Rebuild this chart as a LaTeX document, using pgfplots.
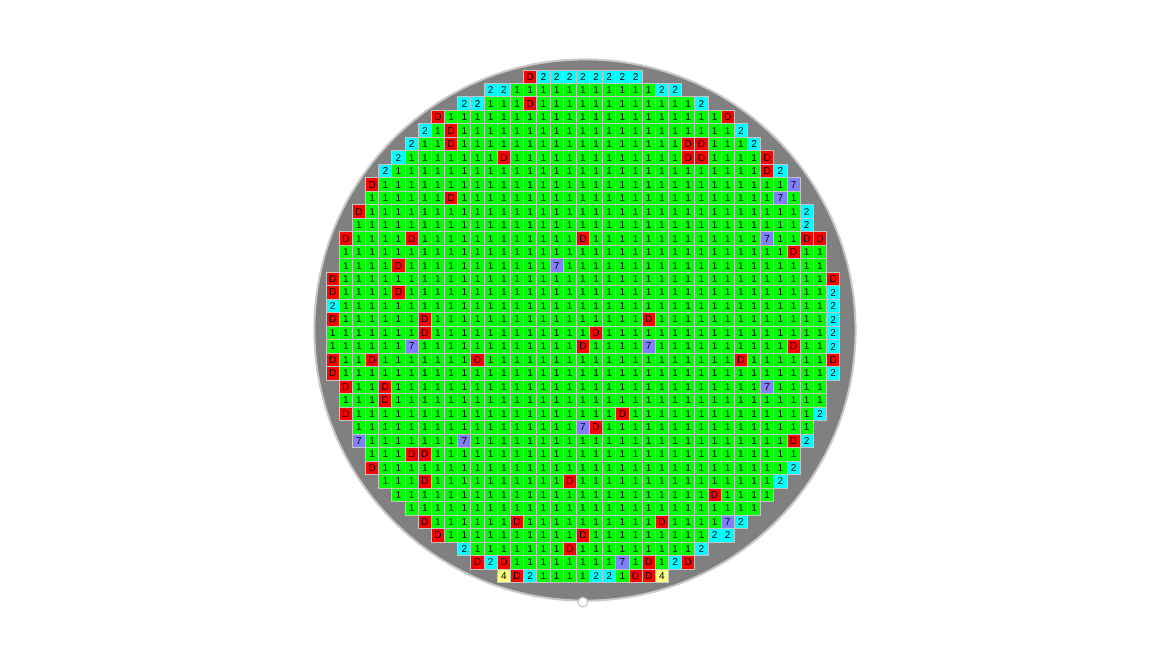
\documentclass[border=0pt]{standalone}
\usepackage{pgfplots}
\pgfplotsset{compat=1.18}
\usepackage{fontspec}
\setmainfont{Liberation Sans}
\definecolor{cgreen}{HTML}{00FF00}
\definecolor{cred}{HTML}{FF0000}
\definecolor{ccyan}{HTML}{00FFFF}
\definecolor{cpurple}{HTML}{8080FF}
\definecolor{cyellow}{HTML}{FFFF80}
\definecolor{cborder}{HTML}{C4C4C4}
\definecolor{wafer}{HTML}{808080}
\definecolor{rim}{HTML}{C8C8C8}
\pgfdeclareplotmark{cell}{\pgfpathrectangle{\pgfqpoint{-3.2925pt}{-3.3725pt}}{\pgfqpoint{6.585pt}{6.745pt}}\pgfusepathqfillstroke}
\begin{document}
\begin{tikzpicture}
\begin{axis}[
  scale only axis, width=584pt, height=328pt,
  xmin=-25.26, xmax=63.43, ymin=-5.686, ymax=42.94,
  y dir=reverse, hide axis, clip=false]
\path (rel axis cs:0,0) rectangle (rel axis cs:1,1);
\fill[wafer, draw=rim, line width=1pt] (axis cs:19.157,18.777) circle[radius=135.3pt];
\fill[white, draw=rim, line width=0.6pt] (axis cs:19.0,38.95) circle[radius=2.4pt];
\addplot[scatter, only marks, scatter src=explicit symbolic, line width=0.45pt,
  scatter/classes={
    1={mark=cell,draw=cborder,fill=cgreen,line width=0.45pt},
    2={mark=cell,draw=cborder,fill=ccyan,line width=0.45pt},
    D={mark=cell,draw=cborder,fill=cred,line width=0.45pt},
    7={mark=cell,draw=cborder,fill=cpurple,line width=0.45pt},
    4={mark=cell,draw=cborder,fill=cyellow,line width=0.45pt}},
  nodes near coords*={\pgfplotspointmeta},
  nodes near coords align={center},
  every node near coord/.append style={anchor=center, inner sep=0pt, text=black, font=\fontsize{5}{5}\selectfont}]
table[x=c, y=r, meta=k, row sep=\\] {
c r k\\
15 0 D\\16 0 2\\17 0 2\\18 0 2\\19 0 2\\20 0 2\\21 0 2\\22 0 2\\23 0 2\\
12 1 2\\13 1 2\\14 1 1\\15 1 1\\16 1 1\\17 1 1\\18 1 1\\19 1 1\\20 1 1\\21 1 1\\22 1 1\\23 1 1\\24 1 1\\25 1 2\\26 1 2\\
10 2 2\\11 2 2\\12 2 1\\13 2 1\\14 2 1\\15 2 D\\16 2 1\\17 2 1\\18 2 1\\19 2 1\\20 2 1\\21 2 1\\22 2 1\\23 2 1\\24 2 1\\25 2 1\\26 2 1\\27 2 1\\28 2 2\\
8 3 D\\9 3 1\\10 3 1\\11 3 1\\12 3 1\\13 3 1\\14 3 1\\15 3 1\\16 3 1\\17 3 1\\18 3 1\\19 3 1\\20 3 1\\21 3 1\\22 3 1\\23 3 1\\24 3 1\\25 3 1\\26 3 1\\27 3 1\\28 3 1\\29 3 1\\30 3 D\\
7 4 2\\8 4 1\\9 4 D\\10 4 1\\11 4 1\\12 4 1\\13 4 1\\14 4 1\\15 4 1\\16 4 1\\17 4 1\\18 4 1\\19 4 1\\20 4 1\\21 4 1\\22 4 1\\23 4 1\\24 4 1\\25 4 1\\26 4 1\\27 4 1\\28 4 1\\29 4 1\\30 4 1\\31 4 2\\
6 5 2\\7 5 1\\8 5 1\\9 5 D\\10 5 1\\11 5 1\\12 5 1\\13 5 1\\14 5 1\\15 5 1\\16 5 1\\17 5 1\\18 5 1\\19 5 1\\20 5 1\\21 5 1\\22 5 1\\23 5 1\\24 5 1\\25 5 1\\26 5 1\\27 5 D\\28 5 D\\29 5 1\\30 5 1\\31 5 1\\32 5 2\\
5 6 2\\6 6 1\\7 6 1\\8 6 1\\9 6 1\\10 6 1\\11 6 1\\12 6 1\\13 6 D\\14 6 1\\15 6 1\\16 6 1\\17 6 1\\18 6 1\\19 6 1\\20 6 1\\21 6 1\\22 6 1\\23 6 1\\24 6 1\\25 6 1\\26 6 1\\27 6 D\\28 6 D\\29 6 1\\30 6 1\\31 6 1\\32 6 1\\33 6 D\\
4 7 2\\5 7 1\\6 7 1\\7 7 1\\8 7 1\\9 7 1\\10 7 1\\11 7 1\\12 7 1\\13 7 1\\14 7 1\\15 7 1\\16 7 1\\17 7 1\\18 7 1\\19 7 1\\20 7 1\\21 7 1\\22 7 1\\23 7 1\\24 7 1\\25 7 1\\26 7 1\\27 7 1\\28 7 1\\29 7 1\\30 7 1\\31 7 1\\32 7 1\\33 7 D\\34 7 2\\
3 8 D\\4 8 1\\5 8 1\\6 8 1\\7 8 1\\8 8 1\\9 8 1\\10 8 1\\11 8 1\\12 8 1\\13 8 1\\14 8 1\\15 8 1\\16 8 1\\17 8 1\\18 8 1\\19 8 1\\20 8 1\\21 8 1\\22 8 1\\23 8 1\\24 8 1\\25 8 1\\26 8 1\\27 8 1\\28 8 1\\29 8 1\\30 8 1\\31 8 1\\32 8 1\\33 8 1\\34 8 1\\35 8 7\\
3 9 1\\4 9 1\\5 9 1\\6 9 1\\7 9 1\\8 9 1\\9 9 D\\10 9 1\\11 9 1\\12 9 1\\13 9 1\\14 9 1\\15 9 1\\16 9 1\\17 9 1\\18 9 1\\19 9 1\\20 9 1\\21 9 1\\22 9 1\\23 9 1\\24 9 1\\25 9 1\\26 9 1\\27 9 1\\28 9 1\\29 9 1\\30 9 1\\31 9 1\\32 9 1\\33 9 1\\34 9 7\\35 9 1\\
2 10 D\\3 10 1\\4 10 1\\5 10 1\\6 10 1\\7 10 1\\8 10 1\\9 10 1\\10 10 1\\11 10 1\\12 10 1\\13 10 1\\14 10 1\\15 10 1\\16 10 1\\17 10 1\\18 10 1\\19 10 1\\20 10 1\\21 10 1\\22 10 1\\23 10 1\\24 10 1\\25 10 1\\26 10 1\\27 10 1\\28 10 1\\29 10 1\\30 10 1\\31 10 1\\32 10 1\\33 10 1\\34 10 1\\35 10 1\\36 10 2\\
2 11 1\\3 11 1\\4 11 1\\5 11 1\\6 11 1\\7 11 1\\8 11 1\\9 11 1\\10 11 1\\11 11 1\\12 11 1\\13 11 1\\14 11 1\\15 11 1\\16 11 1\\17 11 1\\18 11 1\\19 11 1\\20 11 1\\21 11 1\\22 11 1\\23 11 1\\24 11 1\\25 11 1\\26 11 1\\27 11 1\\28 11 1\\29 11 1\\30 11 1\\31 11 1\\32 11 1\\33 11 1\\34 11 1\\35 11 1\\36 11 2\\
1 12 D\\2 12 1\\3 12 1\\4 12 1\\5 12 1\\6 12 D\\7 12 1\\8 12 1\\9 12 1\\10 12 1\\11 12 1\\12 12 1\\13 12 1\\14 12 1\\15 12 1\\16 12 1\\17 12 1\\18 12 1\\19 12 D\\20 12 1\\21 12 1\\22 12 1\\23 12 1\\24 12 1\\25 12 1\\26 12 1\\27 12 1\\28 12 1\\29 12 1\\30 12 1\\31 12 1\\32 12 1\\33 12 7\\34 12 1\\35 12 1\\36 12 D\\37 12 D\\
1 13 1\\2 13 1\\3 13 1\\4 13 1\\5 13 1\\6 13 1\\7 13 1\\8 13 1\\9 13 1\\10 13 1\\11 13 1\\12 13 1\\13 13 1\\14 13 1\\15 13 1\\16 13 1\\17 13 1\\18 13 1\\19 13 1\\20 13 1\\21 13 1\\22 13 1\\23 13 1\\24 13 1\\25 13 1\\26 13 1\\27 13 1\\28 13 1\\29 13 1\\30 13 1\\31 13 1\\32 13 1\\33 13 1\\34 13 1\\35 13 D\\36 13 1\\37 13 1\\
1 14 1\\2 14 1\\3 14 1\\4 14 1\\5 14 D\\6 14 1\\7 14 1\\8 14 1\\9 14 1\\10 14 1\\11 14 1\\12 14 1\\13 14 1\\14 14 1\\15 14 1\\16 14 1\\17 14 7\\18 14 1\\19 14 1\\20 14 1\\21 14 1\\22 14 1\\23 14 1\\24 14 1\\25 14 1\\26 14 1\\27 14 1\\28 14 1\\29 14 1\\30 14 1\\31 14 1\\32 14 1\\33 14 1\\34 14 1\\35 14 1\\36 14 1\\37 14 1\\
0 15 D\\1 15 1\\2 15 1\\3 15 1\\4 15 1\\5 15 1\\6 15 1\\7 15 1\\8 15 1\\9 15 1\\10 15 1\\11 15 1\\12 15 1\\13 15 1\\14 15 1\\15 15 1\\16 15 1\\17 15 1\\18 15 1\\19 15 1\\20 15 1\\21 15 1\\22 15 1\\23 15 1\\24 15 1\\25 15 1\\26 15 1\\27 15 1\\28 15 1\\29 15 1\\30 15 1\\31 15 1\\32 15 1\\33 15 1\\34 15 1\\35 15 1\\36 15 1\\37 15 1\\38 15 D\\
0 16 D\\1 16 1\\2 16 1\\3 16 1\\4 16 1\\5 16 D\\6 16 1\\7 16 1\\8 16 1\\9 16 1\\10 16 1\\11 16 1\\12 16 1\\13 16 1\\14 16 1\\15 16 1\\16 16 1\\17 16 1\\18 16 1\\19 16 1\\20 16 1\\21 16 1\\22 16 1\\23 16 1\\24 16 1\\25 16 1\\26 16 1\\27 16 1\\28 16 1\\29 16 1\\30 16 1\\31 16 1\\32 16 1\\33 16 1\\34 16 1\\35 16 1\\36 16 1\\37 16 1\\38 16 2\\
0 17 2\\1 17 1\\2 17 1\\3 17 1\\4 17 1\\5 17 1\\6 17 1\\7 17 1\\8 17 1\\9 17 1\\10 17 1\\11 17 1\\12 17 1\\13 17 1\\14 17 1\\15 17 1\\16 17 1\\17 17 1\\18 17 1\\19 17 1\\20 17 1\\21 17 1\\22 17 1\\23 17 1\\24 17 1\\25 17 1\\26 17 1\\27 17 1\\28 17 1\\29 17 1\\30 17 1\\31 17 1\\32 17 1\\33 17 1\\34 17 1\\35 17 1\\36 17 1\\37 17 1\\38 17 2\\
0 18 D\\1 18 1\\2 18 1\\3 18 1\\4 18 1\\5 18 1\\6 18 1\\7 18 D\\8 18 1\\9 18 1\\10 18 1\\11 18 1\\12 18 1\\13 18 1\\14 18 1\\15 18 1\\16 18 1\\17 18 1\\18 18 1\\19 18 1\\20 18 1\\21 18 1\\22 18 1\\23 18 1\\24 18 D\\25 18 1\\26 18 1\\27 18 1\\28 18 1\\29 18 1\\30 18 1\\31 18 1\\32 18 1\\33 18 1\\34 18 1\\35 18 1\\36 18 1\\37 18 1\\38 18 2\\
0 19 1\\1 19 1\\2 19 1\\3 19 1\\4 19 1\\5 19 1\\6 19 1\\7 19 D\\8 19 1\\9 19 1\\10 19 1\\11 19 1\\12 19 1\\13 19 1\\14 19 1\\15 19 1\\16 19 1\\17 19 1\\18 19 1\\19 19 1\\20 19 D\\21 19 1\\22 19 1\\23 19 1\\24 19 1\\25 19 1\\26 19 1\\27 19 1\\28 19 1\\29 19 1\\30 19 1\\31 19 1\\32 19 1\\33 19 1\\34 19 1\\35 19 1\\36 19 1\\37 19 1\\38 19 2\\
0 20 1\\1 20 1\\2 20 1\\3 20 1\\4 20 1\\5 20 1\\6 20 7\\7 20 1\\8 20 1\\9 20 1\\10 20 1\\11 20 1\\12 20 1\\13 20 1\\14 20 1\\15 20 1\\16 20 1\\17 20 1\\18 20 1\\19 20 D\\20 20 1\\21 20 1\\22 20 1\\23 20 1\\24 20 7\\25 20 1\\26 20 1\\27 20 1\\28 20 1\\29 20 1\\30 20 1\\31 20 1\\32 20 1\\33 20 1\\34 20 1\\35 20 D\\36 20 1\\37 20 1\\38 20 2\\
0 21 D\\1 21 1\\2 21 1\\3 21 D\\4 21 1\\5 21 1\\6 21 1\\7 21 1\\8 21 1\\9 21 1\\10 21 1\\11 21 D\\12 21 1\\13 21 1\\14 21 1\\15 21 1\\16 21 1\\17 21 1\\18 21 1\\19 21 1\\20 21 1\\21 21 1\\22 21 1\\23 21 1\\24 21 1\\25 21 1\\26 21 1\\27 21 1\\28 21 1\\29 21 1\\30 21 1\\31 21 D\\32 21 1\\33 21 1\\34 21 1\\35 21 1\\36 21 1\\37 21 1\\38 21 D\\
0 22 D\\1 22 1\\2 22 1\\3 22 1\\4 22 1\\5 22 1\\6 22 1\\7 22 1\\8 22 1\\9 22 1\\10 22 1\\11 22 1\\12 22 1\\13 22 1\\14 22 1\\15 22 1\\16 22 1\\17 22 1\\18 22 1\\19 22 1\\20 22 1\\21 22 1\\22 22 1\\23 22 1\\24 22 1\\25 22 1\\26 22 1\\27 22 1\\28 22 1\\29 22 1\\30 22 1\\31 22 1\\32 22 1\\33 22 1\\34 22 1\\35 22 1\\36 22 1\\37 22 1\\38 22 2\\
1 23 D\\2 23 1\\3 23 1\\4 23 D\\5 23 1\\6 23 1\\7 23 1\\8 23 1\\9 23 1\\10 23 1\\11 23 1\\12 23 1\\13 23 1\\14 23 1\\15 23 1\\16 23 1\\17 23 1\\18 23 1\\19 23 1\\20 23 1\\21 23 1\\22 23 1\\23 23 1\\24 23 1\\25 23 1\\26 23 1\\27 23 1\\28 23 1\\29 23 1\\30 23 1\\31 23 1\\32 23 1\\33 23 7\\34 23 1\\35 23 1\\36 23 1\\37 23 1\\
1 24 1\\2 24 1\\3 24 1\\4 24 D\\5 24 1\\6 24 1\\7 24 1\\8 24 1\\9 24 1\\10 24 1\\11 24 1\\12 24 1\\13 24 1\\14 24 1\\15 24 1\\16 24 1\\17 24 1\\18 24 1\\19 24 1\\20 24 1\\21 24 1\\22 24 1\\23 24 1\\24 24 1\\25 24 1\\26 24 1\\27 24 1\\28 24 1\\29 24 1\\30 24 1\\31 24 1\\32 24 1\\33 24 1\\34 24 1\\35 24 1\\36 24 1\\37 24 1\\
1 25 D\\2 25 1\\3 25 1\\4 25 1\\5 25 1\\6 25 1\\7 25 1\\8 25 1\\9 25 1\\10 25 1\\11 25 1\\12 25 1\\13 25 1\\14 25 1\\15 25 1\\16 25 1\\17 25 1\\18 25 1\\19 25 1\\20 25 1\\21 25 1\\22 25 D\\23 25 1\\24 25 1\\25 25 1\\26 25 1\\27 25 1\\28 25 1\\29 25 1\\30 25 1\\31 25 1\\32 25 1\\33 25 1\\34 25 1\\35 25 1\\36 25 1\\37 25 2\\
2 26 1\\3 26 1\\4 26 1\\5 26 1\\6 26 1\\7 26 1\\8 26 1\\9 26 1\\10 26 1\\11 26 1\\12 26 1\\13 26 1\\14 26 1\\15 26 1\\16 26 1\\17 26 1\\18 26 1\\19 26 7\\20 26 D\\21 26 1\\22 26 1\\23 26 1\\24 26 1\\25 26 1\\26 26 1\\27 26 1\\28 26 1\\29 26 1\\30 26 1\\31 26 1\\32 26 1\\33 26 1\\34 26 1\\35 26 1\\36 26 1\\
2 27 7\\3 27 1\\4 27 1\\5 27 1\\6 27 1\\7 27 1\\8 27 1\\9 27 1\\10 27 7\\11 27 1\\12 27 1\\13 27 1\\14 27 1\\15 27 1\\16 27 1\\17 27 1\\18 27 1\\19 27 1\\20 27 1\\21 27 1\\22 27 1\\23 27 1\\24 27 1\\25 27 1\\26 27 1\\27 27 1\\28 27 1\\29 27 1\\30 27 1\\31 27 1\\32 27 1\\33 27 1\\34 27 1\\35 27 D\\36 27 2\\
3 28 1\\4 28 1\\5 28 1\\6 28 D\\7 28 D\\8 28 1\\9 28 1\\10 28 1\\11 28 1\\12 28 1\\13 28 1\\14 28 1\\15 28 1\\16 28 1\\17 28 1\\18 28 1\\19 28 1\\20 28 1\\21 28 1\\22 28 1\\23 28 1\\24 28 1\\25 28 1\\26 28 1\\27 28 1\\28 28 1\\29 28 1\\30 28 1\\31 28 1\\32 28 1\\33 28 1\\34 28 1\\35 28 1\\
3 29 D\\4 29 1\\5 29 1\\6 29 1\\7 29 1\\8 29 1\\9 29 1\\10 29 1\\11 29 1\\12 29 1\\13 29 1\\14 29 1\\15 29 1\\16 29 1\\17 29 1\\18 29 1\\19 29 1\\20 29 1\\21 29 1\\22 29 1\\23 29 1\\24 29 1\\25 29 1\\26 29 1\\27 29 1\\28 29 1\\29 29 1\\30 29 1\\31 29 1\\32 29 1\\33 29 1\\34 29 1\\35 29 2\\
4 30 1\\5 30 1\\6 30 1\\7 30 D\\8 30 1\\9 30 1\\10 30 1\\11 30 1\\12 30 1\\13 30 1\\14 30 1\\15 30 1\\16 30 1\\17 30 1\\18 30 D\\19 30 1\\20 30 1\\21 30 1\\22 30 1\\23 30 1\\24 30 1\\25 30 1\\26 30 1\\27 30 1\\28 30 1\\29 30 1\\30 30 1\\31 30 1\\32 30 1\\33 30 1\\34 30 2\\
5 31 1\\6 31 1\\7 31 1\\8 31 1\\9 31 1\\10 31 1\\11 31 1\\12 31 1\\13 31 1\\14 31 1\\15 31 1\\16 31 1\\17 31 1\\18 31 1\\19 31 1\\20 31 1\\21 31 1\\22 31 1\\23 31 1\\24 31 1\\25 31 1\\26 31 1\\27 31 1\\28 31 1\\29 31 D\\30 31 1\\31 31 1\\32 31 1\\33 31 1\\
6 32 1\\7 32 1\\8 32 1\\9 32 1\\10 32 1\\11 32 1\\12 32 1\\13 32 1\\14 32 1\\15 32 1\\16 32 1\\17 32 1\\18 32 1\\19 32 1\\20 32 1\\21 32 1\\22 32 1\\23 32 1\\24 32 1\\25 32 1\\26 32 1\\27 32 1\\28 32 1\\29 32 1\\30 32 1\\31 32 1\\32 32 1\\
7 33 D\\8 33 1\\9 33 1\\10 33 1\\11 33 1\\12 33 1\\13 33 1\\14 33 D\\15 33 1\\16 33 1\\17 33 1\\18 33 1\\19 33 1\\20 33 1\\21 33 1\\22 33 1\\23 33 1\\24 33 1\\25 33 D\\26 33 1\\27 33 1\\28 33 1\\29 33 1\\30 33 7\\31 33 2\\
8 34 D\\9 34 1\\10 34 1\\11 34 1\\12 34 1\\13 34 1\\14 34 1\\15 34 1\\16 34 1\\17 34 1\\18 34 1\\19 34 D\\20 34 1\\21 34 1\\22 34 1\\23 34 1\\24 34 1\\25 34 1\\26 34 1\\27 34 1\\28 34 1\\29 34 2\\30 34 2\\
10 35 2\\11 35 1\\12 35 1\\13 35 1\\14 35 1\\15 35 1\\16 35 1\\17 35 1\\18 35 D\\19 35 1\\20 35 1\\21 35 1\\22 35 1\\23 35 1\\24 35 1\\25 35 1\\26 35 1\\27 35 1\\28 35 2\\
11 36 D\\12 36 2\\13 36 D\\14 36 1\\15 36 1\\16 36 1\\17 36 1\\18 36 1\\19 36 1\\20 36 1\\21 36 1\\22 36 7\\23 36 1\\24 36 D\\25 36 1\\26 36 2\\27 36 D\\
13 37 4\\14 37 D\\15 37 2\\16 37 1\\17 37 1\\18 37 1\\19 37 1\\20 37 2\\21 37 2\\22 37 1\\23 37 D\\24 37 D\\25 37 4\\
};
\end{axis}
\end{tikzpicture}
\end{document}
